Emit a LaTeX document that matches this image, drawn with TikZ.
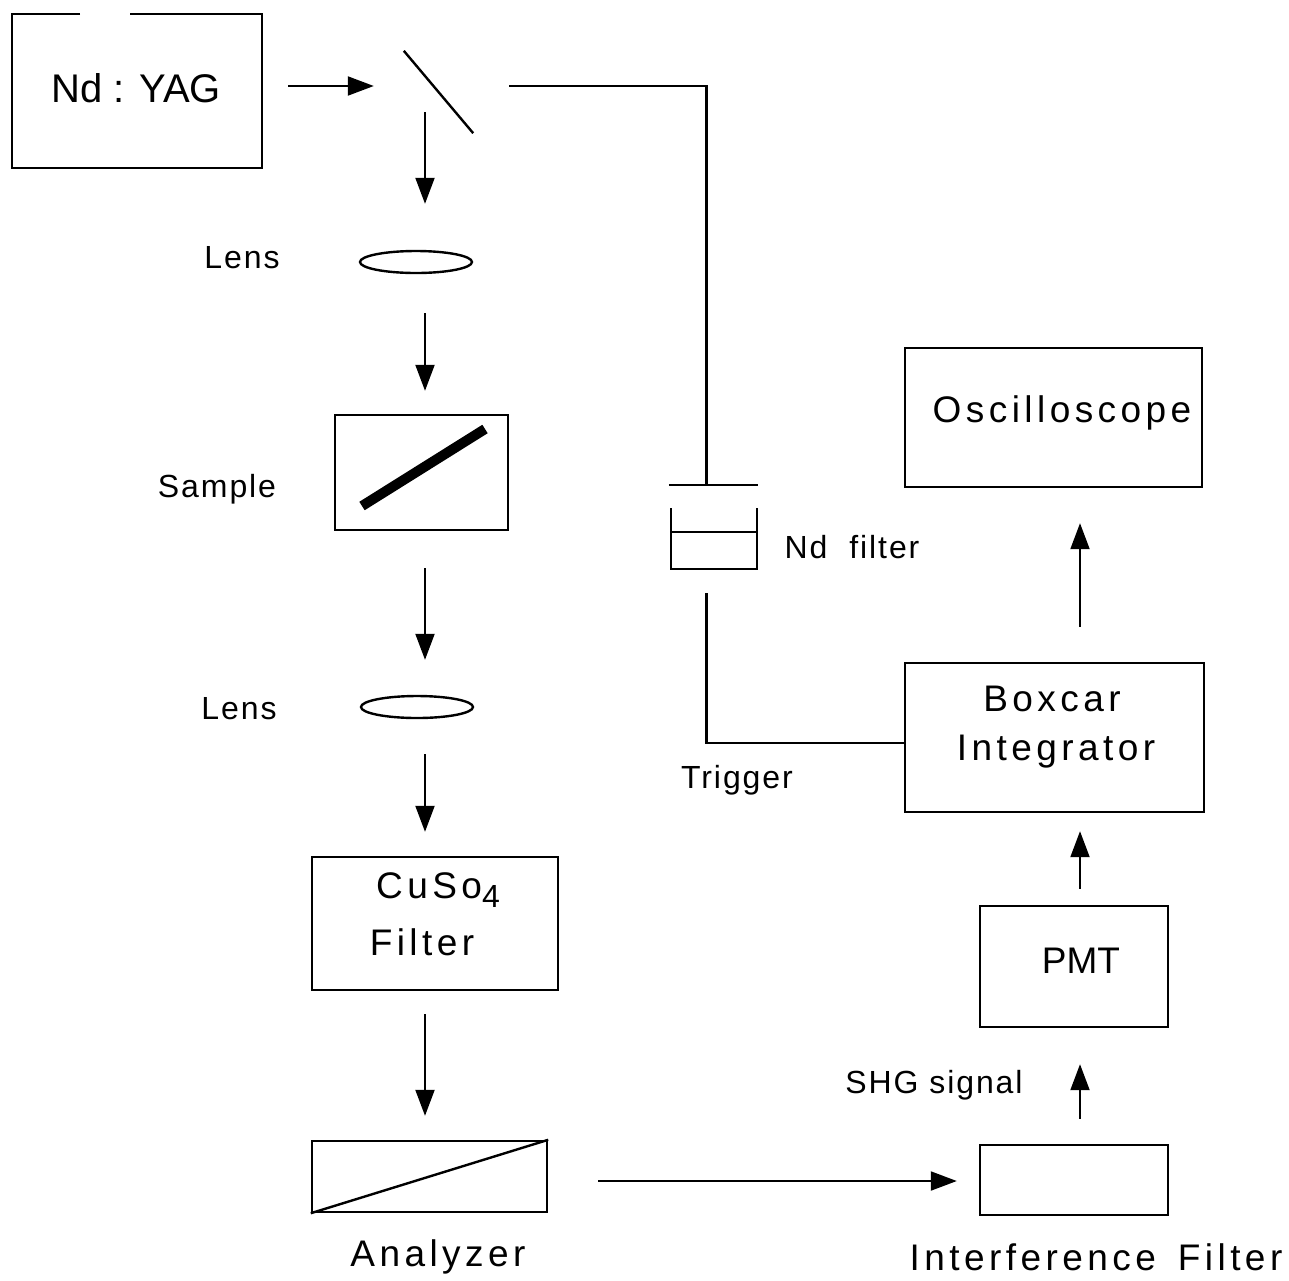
\documentclass[tikz,border=0pt]{standalone}
\usepackage{fontspec}
\setmainfont{Liberation Sans}
\usetikzlibrary{arrows.meta,shapes.geometric}
\begin{document}
\begin{tikzpicture}[x=1pt,y=-1pt,line width=2.4pt,
  box/.style={draw,rectangle,inner sep=0pt},
  ghost/.style={rectangle,inner sep=0pt,draw=none},
  lensshape/.style={draw,ellipse,inner sep=0pt,minimum width=112,minimum height=22},
  arr/.style={-{Triangle[width=19pt,length=26pt]},line width=2pt},
  wire/.style={line width=2.2pt},
  lbl/.style={font=\fontsize{32}{38}\selectfont\addfontfeature{LetterSpace=6}},
  big/.style={font=\fontsize{37}{44}\selectfont\addfontfeature{LetterSpace=12},align=center}]
\useasboundingbox (0,0) rectangle (1289,1280);
% named reference lines
\coordinate (col) at (425,0);
\coordinate (rcol) at (1080,0);
\coordinate (toprow) at (0,86);
\coordinate (botrow) at (0,1181);
\coordinate (tx) at (706.5,0);
\coordinate (trigrow) at (0,743);
% Nd:YAG laser (top edge has a gap)
\node[ghost,minimum width=250,minimum height=154] (yag) at (137,91) {};
\draw (80,14) -- (12,14) -- (12,168) -- (262,168) -- (262,14) -- (130,14);
\node[font=\fontsize{40}{48}\selectfont] at (136,88) {Nd : YAG};
% mirror
\node[ghost,minimum width=67,minimum height=80] (mirror) at (438.5,92) {};
\draw (mirror.north west) -- (mirror.south east);
% lenses
\node[lensshape] (lens1) at (416,262) {};
\node[lbl] at (242,258) {Lens};
\node[lensshape] (lens2) at (417,707) {};
\node[lbl] at (239,709) {Lens};
% sample
\node[box,minimum width=173,minimum height=115] (sample) at (421.5,472.5) {};
\draw[line width=10pt] (362,506) -- (485,429);
\node[lbl] at (217,489) {Sample};
% CuSO4 filter
\node[box,minimum width=246,minimum height=133] (cuso) at (435,923.5) {};
\node[big] at (438,890) {CuSo\raisebox{-9pt}{\fontsize{32}{38}\selectfont 4}};
\node[big] at (422,942) {Filter};
% analyzer
\node[box,minimum width=235,minimum height=71] (ana) at (429.5,1176.5) {};
\draw (ana.south west) -- (ana.north east);
\node[big] at (438,1257) {Analyzer};
% interference filter
\node[box,minimum width=188,minimum height=70] (intf) at (1074,1180) {};
\node[big] at (1096,1257) {Interference\hspace{22pt}Filter};
% PMT
\node[box,minimum width=188,minimum height=121] (pmt) at (1074,966.5) {};
\node[font=\fontsize{37}{44}\selectfont] at (1081,961) {PMT};
\node[lbl] at (934,1085) {SHG signal};
% boxcar
\node[box,minimum width=299,minimum height=149] (boxcar) at (1054.5,737.5) {};
\node[big] at (1052,699) {Boxcar};
\node[big] at (1056,752) {Integrator};
% oscilloscope
\node[box,minimum width=297,minimum height=139] (osc) at (1053.5,417.5) {};
\node[big] at (1062,413) {Oscilloscope};
% Nd filter
\node[ghost,minimum width=87,minimum height=83] (ndf) at (713.5,527.5) {};
\draw (ndf.north west) -- (ndf.north east);
\draw (671,508) -- (671,569) -- (757,569) -- (757,508);
\draw (671,532) -- (757,532);
\node[lbl,anchor=west] at (780,547) {Nd\hspace{22pt}filter};
\node[lbl] at (737,780) {Trigger};
% beam path
\draw[arr,shorten <=25,shorten >=30] (yag.east |- toprow) -- (mirror.west |- toprow);
\draw[arr,shorten <=20,shorten >=46] (mirror.center -| col) -- (lens1.north -| col);
\draw[arr,shorten <=39,shorten >=23] (lens1.south -| col) -- (sample.north -| col);
\draw[arr,shorten <=37,shorten >=35] (sample.south -| col) -- (lens2.north -| col);
\draw[arr,shorten <=35,shorten >=24] (lens2.south -| col) -- (cuso.north -| col);
\draw[arr,shorten <=23,shorten >=24] (cuso.south -| col) -- (ana.north -| col);
\draw[arr,shorten <=50,shorten >=22] (ana.east |- botrow) -- (intf.west |- botrow);
\draw[arr,shorten <=25,shorten >=36] (intf.north -| rcol) -- (pmt.south -| rcol);
\draw[arr,shorten <=16,shorten >=18] (pmt.north -| rcol) -- (boxcar.south -| rcol);
\draw[arr,shorten <=35,shorten >=35] (boxcar.north -| rcol) -- (osc.south -| rcol);
% trigger wiring
\draw[wire,shorten <=36] (mirror.east |- toprow) -| (tx |- ndf.north);
\draw[wire,shorten <=23] (tx |- ndf.south) |- (boxcar.west |- trigrow);
\end{tikzpicture}
\end{document}
